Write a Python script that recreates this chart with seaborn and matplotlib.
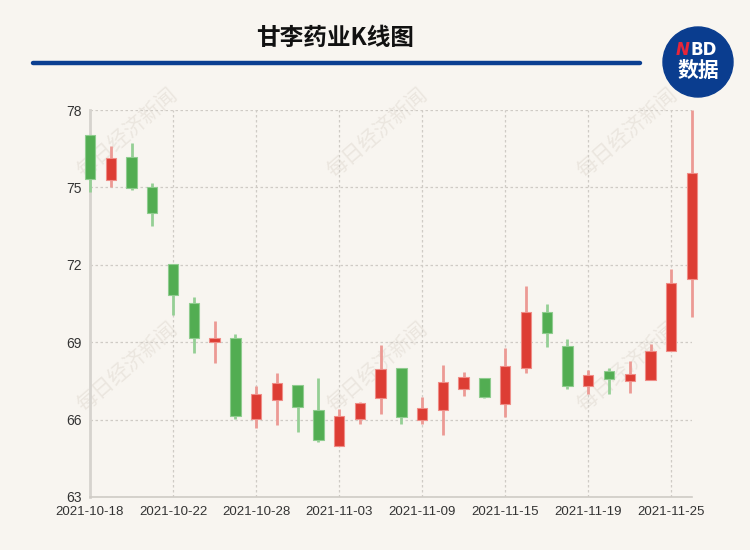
import numpy as np
import pandas as pd
import matplotlib
matplotlib.use("Agg")
import matplotlib.pyplot as plt
from matplotlib.patches import Ellipse
from matplotlib.lines import Line2D
import seaborn as sns

# daily prices
dates = ["2021-10-18", "2021-10-19", "2021-10-20", "2021-10-21", "2021-10-22",
         "2021-10-25", "2021-10-26", "2021-10-27", "2021-10-28", "2021-10-29",
         "2021-11-01", "2021-11-02", "2021-11-03", "2021-11-04", "2021-11-05",
         "2021-11-08", "2021-11-09", "2021-11-10", "2021-11-11", "2021-11-12",
         "2021-11-15", "2021-11-16", "2021-11-17", "2021-11-18", "2021-11-19",
         "2021-11-22", "2021-11-23", "2021-11-24", "2021-11-25", "2021-11-26"]
opens = [77.04, 75.27, 76.18, 75.00, 72.02, 70.52, 69.00, 69.18, 66.01, 66.75,
         67.34, 66.38, 64.99, 66.02, 66.85, 68.00, 66.00, 66.38, 67.18, 67.61,
         66.60, 68.00, 70.17, 68.84, 67.31, 67.88, 67.51, 67.55, 68.65, 71.44]
highs = [77.04, 76.61, 76.74, 75.17, 72.02, 70.74, 69.82, 69.31, 67.30, 67.79,
         67.34, 67.61, 66.41, 66.67, 68.89, 68.00, 66.89, 68.12, 67.84, 67.61,
         68.79, 71.18, 70.48, 69.11, 67.91, 68.00, 68.27, 68.93, 71.84, 78.00]
lows = [74.82, 75.00, 74.88, 73.51, 70.06, 68.58, 68.18, 66.01, 65.68, 65.78,
        65.50, 65.12, 64.99, 65.84, 66.22, 65.81, 65.81, 65.41, 66.91, 66.82,
        66.09, 67.82, 68.83, 67.17, 67.00, 67.00, 67.02, 67.55, 68.65, 69.99]
closes = [75.32, 76.14, 74.97, 74.00, 70.81, 69.16, 69.18, 66.15, 66.99, 67.41,
          66.49, 65.19, 66.14, 66.63, 67.96, 66.09, 66.44, 67.46, 67.64, 66.87,
          68.09, 70.16, 69.37, 67.31, 67.72, 67.57, 67.76, 68.67, 71.31, 75.54]
y_ticks = [63, 66, 69, 72, 75, 78]

BG = "#f8f5f0"
UP, UP_WICK = "#dd3d34", "#ec9a94"
DOWN, DOWN_WICK = "#52ad52", "#95cf95"
CJK = ["Noto Sans CJK SC", "DejaVu Sans"]

df = pd.DataFrame({"date": dates, "open": opens, "high": highs,
                   "low": lows, "close": closes})
df["x"] = np.arange(len(df))
df["up"] = df["close"] >= df["open"]

sns.set_theme(style="whitegrid", rc={"figure.facecolor": BG, "axes.facecolor": BG})
plt.rcParams["font.family"] = ["Liberation Sans", "DejaVu Sans"]

fig = plt.figure(figsize=(7.5, 5.5), dpi=100)
fig.patch.set_facecolor(BG)
ax = fig.add_axes([0.12, 0.0964, 0.8027, 0.7036])
ax.patch.set_alpha(0)
ax.set_zorder(2)

# watermark, behind the axes
for wx in [127, 377, 627]:
    for wy in [133, 367]:
        fig.text(wx / 750, 1 - wy / 550, "每日经济新闻", rotation=41,
                 ha="center", va="center", fontsize=15, color="#ebe6df",
                 family=CJK, zorder=0)

# wicks
wick_cols = np.where(df["up"], UP_WICK, DOWN_WICK)
ax.vlines(df["x"], df["low"], df["high"], colors=wick_cols, linewidth=2,
          zorder=3, clip_on=False)

# bodies
body_bottom = np.minimum(df["open"], df["close"])
body_height = np.maximum(np.abs(df["close"] - df["open"]), 0.05)
body_cols = np.where(df["up"], UP, DOWN)
edge_cols = np.where(df["up"], "#ef8d87", "#8fcc8f")
ax.bar(df["x"], body_height, bottom=body_bottom, width=0.5, color=body_cols,
       edgecolor=edge_cols, linewidth=0.8, zorder=4, clip_on=False)

ax.set_xlim(0, len(df) - 1)
ax.set_ylim(63, 78)
ax.set_yticks(y_ticks)
ax.set_yticklabels([str(v) for v in y_ticks], fontsize=10, color="#333333")
tick_idx = list(range(0, len(df), 4))
ax.set_xticks(tick_idx)
ax.set_xticklabels([dates[i] for i in tick_idx], fontsize=9.5, color="#333333")
ax.tick_params(axis="y", length=0, pad=6)
ax.tick_params(axis="x", length=0, pad=6.5)

ax.grid(True, color="#cfcbc5", linestyle=(0, (2, 2)), linewidth=0.9)
ax.set_axisbelow(True)
sns.despine(ax=ax, top=True, right=True)
ax.spines["left"].set_color("#d6d3ce")
ax.spines["left"].set_linewidth(2)
ax.spines["bottom"].set_color("#cfcbc5")
ax.spines["bottom"].set_linewidth(1.2)

# title and rule
fig.text(335 / 750, 1 - 38 / 550, "甘李药业K线图", ha="center", va="center",
         fontsize=17, fontweight="bold", color="#111111", family=CJK)
fig.add_artist(Line2D([33 / 750, 640 / 750], [1 - 63 / 550, 1 - 63 / 550],
                      color="#0b3f91", linewidth=3.2))

# NBD badge
fig.add_artist(Ellipse((698 / 750, 1 - 62 / 550), 70 / 750, 70 / 550,
                       color="#0a3d8f", transform=fig.transFigure))
fig.text(690 / 750, 1 - 50 / 550, "N", ha="right", va="center", fontsize=12,
         fontweight="bold", style="italic", color="#e8253a", family="DejaVu Sans")
fig.text(690 / 750, 1 - 50 / 550, "BD", ha="left", va="center", fontsize=12,
         fontweight="bold", color="white", family="DejaVu Sans")
fig.text(698 / 750, 1 - 70 / 550, "数据", ha="center", va="center", fontsize=15,
         fontweight="bold", color="white", family=CJK)

fig.savefig("out.png", dpi=100, facecolor=BG)
